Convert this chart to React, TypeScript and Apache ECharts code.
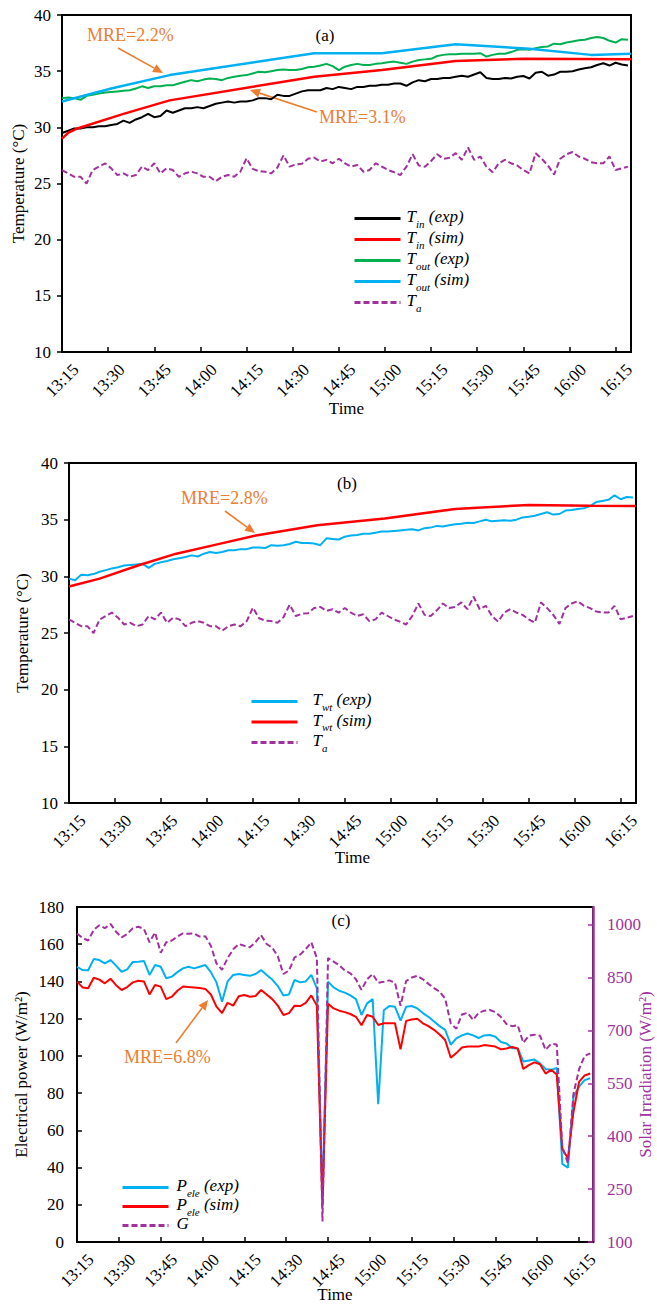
import { useEffect, useRef } from 'react';
import * as echarts from 'echarts';

const SERIF = '"Liberation Serif", "Times New Roman", serif';
const ORANGE = '#ED7D31';
const PURPLE = '#A0319F';
const BLUE = '#00B0F0';
const RED = '#FF0000';
const GREEN = '#00B050';
const BLACK = '#000000';

// Logged samples: minutes after 13:15, one every 2 minutes
const expMinutes = Array.from({ length: 93 }, (_, i) => i * 2);

// x-axis tick labels, every 15 minutes from 13:15
const tickLabels = ['13:15', '13:30', '13:45', '14:00', '14:15', '14:30', '14:45', '15:00', '15:15', '15:30', '15:45', '16:00', '16:15'];

// (a) inlet / outlet temperatures (°C)
const tinExp = [
  29.5, 29.7, 29.9, 29.9, 30.0, 30.0, 30.1, 30.1, 30.2, 30.3,
  30.6, 30.4, 30.7, 30.9, 31.2, 30.9, 31.0, 31.5, 31.3, 31.5,
  31.7, 31.7, 31.8, 31.7, 31.9, 32.1, 32.2, 32.3, 32.2, 32.3,
  32.3, 32.4, 32.6, 32.6, 32.5, 32.9, 32.8, 32.8, 33.0, 33.2,
  33.3, 33.3, 33.3, 33.5, 33.4, 33.6, 33.5, 33.4, 33.6, 33.6,
  33.7, 33.7, 33.8, 33.8, 33.9, 33.9, 33.7, 34.0, 34.2, 34.1,
  34.3, 34.3, 34.4, 34.4, 34.5, 34.6, 34.5, 34.7, 34.9, 34.4,
  34.3, 34.3, 34.4, 34.35, 34.5, 34.57, 34.35, 34.85, 34.95, 34.6,
  34.7, 34.95, 34.95, 35.0, 35.15, 35.25, 35.35, 35.55, 35.7, 35.5,
  35.75, 35.6, 35.5,
];
const toutExp = [
  32.6, 32.65, 32.6, 32.45, 32.8, 32.9, 33.0, 33.1, 33.15, 33.2,
  33.25, 33.3, 33.45, 33.65, 33.5, 33.65, 33.65, 33.75, 33.75, 33.9,
  34.05, 34.2, 34.1, 34.25, 34.35, 34.3, 34.2, 34.4, 34.5, 34.6,
  34.65, 34.8, 34.95, 34.9, 35.0, 35.1, 35.15, 35.1, 35.1, 35.2,
  35.35, 35.4, 35.5, 35.65, 35.45, 35.1, 35.4, 35.55, 35.65, 35.55,
  35.55, 35.65, 35.7, 35.8, 35.85, 35.75, 35.65, 35.85, 36.0, 36.05,
  36.1, 36.35, 36.45, 36.5, 36.5, 36.55, 36.55, 36.55, 36.6, 36.3,
  36.45, 36.55, 36.55, 36.7, 36.9, 36.95, 36.9, 37.05, 37.15, 37.2,
  37.45, 37.4, 37.55, 37.65, 37.75, 37.8, 37.95, 38.05, 37.95, 37.7,
  37.55, 37.85, 37.8,
];
// ambient temperature (°C), shared by (a) and (b)
const ambient = [
  26.2, 25.9, 25.6, 25.6, 25.0, 26.2, 26.5, 26.8, 26.35, 25.75,
  25.9, 25.6, 25.75, 26.5, 26.2, 26.8, 25.9, 26.35, 26.2, 25.6,
  25.9, 26.05, 25.9, 25.6, 25.6, 25.2, 25.6, 25.75, 25.6, 26.05,
  27.24, 26.3, 26.1, 26.05, 25.9, 26.4, 27.5, 26.5, 26.7, 26.75,
  27.2, 27.3, 26.95, 27.1, 26.8, 27.2, 26.8, 26.5, 26.65, 26.05,
  26.2, 26.8, 26.5, 26.2, 26.0, 25.75, 26.5, 27.6, 26.6, 26.5,
  27.0, 27.6, 27.2, 27.3, 27.7, 27.1, 28.2, 27.1, 27.4, 26.5,
  26.0, 26.8, 27.1, 26.8, 26.6, 26.2, 25.9, 27.7, 27.2, 26.6,
  25.8, 27.2, 27.6, 27.8, 27.4, 27.2, 26.9, 26.8, 26.8, 27.4,
  26.2, 26.35, 26.5,
];
// model output, given at its own time steps
const tinSimT = [0, 2, 5, 20, 35, 82, 104, 128, 150, 185];
const tinSimV = [29.0, 29.5, 29.9, 31.2, 32.4, 34.5, 35.1, 35.9, 36.1, 36.05];
const toutSimT = [0, 16, 35, 82, 104, 128, 152, 172, 185];
const toutSimV = [32.3, 33.45, 34.65, 36.6, 36.6, 37.4, 37.0, 36.45, 36.55];

// (b) water tank temperature (°C)
const twtExp = [
  29.8, 29.65, 30.15, 30.1, 30.2, 30.4, 30.55, 30.7, 30.8, 30.95,
  31.0, 31.05, 31.1, 30.75, 31.1, 31.25, 31.35, 31.5, 31.6, 31.7,
  31.85, 31.75, 32.0, 32.15, 32.05, 32.15, 32.3, 32.3, 32.4, 32.4,
  32.55, 32.55, 32.5, 32.75, 32.7, 32.75, 32.85, 33.05, 32.95, 32.95,
  32.9, 32.75, 33.35, 33.3, 33.25, 33.5, 33.6, 33.65, 33.75, 33.75,
  33.85, 33.95, 33.95, 34.0, 34.05, 34.1, 34.15, 34.05, 34.25, 34.3,
  34.45, 34.4, 34.5, 34.6, 34.65, 34.72, 34.7, 34.85, 35.0, 34.85,
  34.9, 34.95, 34.9, 35.0, 35.2, 35.25, 35.35, 35.5, 35.65, 35.45,
  35.5, 35.8, 35.85, 35.95, 36.0, 36.2, 36.55, 36.65, 36.75, 37.15,
  36.8, 37.0, 36.95,
];
const twtSimT = [0, 10, 23, 35, 48, 61, 81, 103, 126, 150, 170, 185];
const twtSimV = [29.1, 29.8, 31.0, 32.0, 32.8, 33.6, 34.5, 35.1, 35.95, 36.3, 36.22, 36.2];

// (c) electrical power (W/m²) and solar irradiation (W/m²)
const pExp = [
  147.9, 146.1, 146.0, 152, 151.5, 149.7, 151.5, 148.5, 145.2, 146.5,
  150.5, 150.6, 151, 143.5, 148.8, 147.9, 141.7, 142.6, 145, 147,
  147.9, 147, 147.9, 148.8, 145, 139.5, 129.1, 140, 143.5, 144,
  143.5, 143, 144, 146.1, 143.5, 141, 137.5, 132.5, 133, 140.8,
  139.5, 140, 143.5, 136.3, 24, 139.9, 136.8, 135, 134, 132.5,
  130.5, 122, 128.2, 130.5, 74, 124.5, 126.8, 126.4, 119, 126.4,
  126.8, 125.5, 123, 121, 118.5, 116, 114, 106, 109.4, 111,
  112, 111, 109.6, 111, 111.2, 110.3, 107.5, 106.7, 104.1, 104,
  97, 97.5, 98, 96, 93, 92.5, 93.5, 42, 40, 78,
  83.5, 87, 88,
];
const pSim = [
  139.9, 136.8, 136.3, 142, 141, 139, 141.5, 138, 135.4, 137,
  139.5, 140.4, 140, 133, 138.1, 137.2, 130.5, 131.8, 135, 137.3,
  137, 136.8, 136.5, 136, 133, 126.5, 123, 128.5, 127, 132,
  132.7, 131.8, 132.2, 135.4, 133, 130.5, 127, 122, 123, 127,
  126.8, 128.5, 132.5, 127, 19, 128, 125.5, 124.3, 123.5, 122.5,
  121, 116.5, 122, 121, 116.6, 117.5, 117.5, 117.5, 103.5, 118.8,
  119.5, 120, 117.5, 116, 114, 111.5, 108.5, 99, 101.5, 104.5,
  105, 105, 105, 105.8, 105.5, 105, 103.5, 104, 104.8, 104,
  93, 95, 96.5, 95.5, 90.5, 92.5, 90, 50, 45, 70,
  86, 89.5, 90.5,
];
const irradiation = [
  975, 962, 955, 985, 998, 990, 1002, 980, 964, 973,
  990, 994, 988, 950, 978, 920, 950, 955, 966, 975,
  974, 975, 966, 967, 940, 890, 872, 905, 930, 945,
  940, 936, 950, 970, 945, 935, 910, 860, 870, 907,
  915, 930, 950, 905, 158, 905, 895, 885, 870, 862,
  845, 815, 845, 860, 835, 838, 842, 835, 770, 840,
  850, 855, 845, 832, 820, 810, 790, 720, 705, 745,
  750, 730, 750, 756, 758, 752, 738, 718, 712, 715,
  665, 685, 688, 685, 645, 662, 660, 370, 323, 520,
  590, 628, 635,
];

// Legend labels: [symbol, subscript, suffix]
const legendParts: Record<string, [string, string, string]> = {
  'Tin (exp)': ['T', 'in', ' (exp)'],
  'Tin (sim)': ['T', 'in', ' (sim)'],
  'Tout (exp)': ['T', 'out', ' (exp)'],
  'Tout (sim)': ['T', 'out', ' (sim)'],
  'Ta': ['T', 'a', ''],
  'Twt (exp)': ['T', 'wt', ' (exp)'],
  'Twt (sim)': ['T', 'wt', ' (sim)'],
  'Pele (exp)': ['P', 'ele', ' (exp)'],
  'Pele (sim)': ['P', 'ele', ' (sim)'],
  'G': ['G', '', ''],
};

const pairs = (ts: number[], vs: number[]) => ts.map((t, i) => [t, vs[i]]);

const timeLabel = (m: number) => (m % 15 === 0 && m / 15 < tickLabels.length ? tickLabels[m / 15] : '');

const legendFormatter = (name: string) => {
  const [m, s, suf] = legendParts[name];
  return `{t|${m}}` + (s ? `{s|${s}}` : '') + (suf ? `{t|${suf}}` : '');
};

const legendRich = {
  t: { fontFamily: SERIF, fontStyle: 'italic', fontSize: 17, lineHeight: 21, verticalAlign: 'top', color: BLACK },
  s: { fontFamily: SERIF, fontStyle: 'italic', fontSize: 11, lineHeight: 10, verticalAlign: 'bottom', color: BLACK },
};

const makeLegend = (data: string[], left: number, top: number, gap: number, textPad: number) => ({
  data,
  left,
  top,
  orient: 'vertical',
  itemWidth: 46,
  itemHeight: 14,
  itemGap: gap,
  selectedMode: false,
  itemStyle: { opacity: 0 },
  lineStyle: { width: 3 },
  formatter: legendFormatter,
  textStyle: { rich: legendRich, padding: [0, 0, 0, textPad] },
});

const grids = [
  { left: 62, top: 15, width: 569, height: 337 },
  { left: 69, top: 463, width: 567, height: 340 },
  { left: 77, top: 907, width: 516, height: 335 },
];

const makeXAxis = (gridIndex: number, nameGap: number) => ({
  type: 'value',
  gridIndex,
  min: 0,
  max: 185,
  interval: 15,
  name: 'Time',
  nameLocation: 'middle',
  nameGap,
  nameMoveOverlap: false,
  nameTextStyle: { fontFamily: SERIF, fontSize: 17, color: BLACK },
  axisLine: { show: true, lineStyle: { color: BLACK, width: 2 } },
  axisTick: { show: true, inside: true, length: 5, lineStyle: { color: BLACK, width: 1.5 } },
  axisLabel: {
    rotate: 45,
    margin: 1,
    verticalAlign: 'top',
    padding: [11, 0, 0, 0],
    fontFamily: SERIF,
    fontSize: 17,
    color: BLACK,
    showMaxLabel: false,
    formatter: (v: number) => timeLabel(v),
  },
  splitLine: { show: false },
});

const makeTempAxis = (gridIndex: number, nameGap: number) => ({
  type: 'value',
  gridIndex,
  min: 10,
  max: 40,
  interval: 5,
  name: 'Temperature (°C)',
  nameLocation: 'middle',
  nameGap,
  nameMoveOverlap: false,
  nameTextStyle: { fontFamily: SERIF, fontSize: 17, color: BLACK },
  axisLine: { show: true, lineStyle: { color: BLACK, width: 2 } },
  axisTick: { show: true, inside: false, length: 5, lineStyle: { color: BLACK, width: 1.5 } },
  axisLabel: { margin: 11, fontFamily: SERIF, fontSize: 17, color: BLACK },
  splitLine: { show: false },
});

const arrow = (x1: number, y1: number, x2: number, y2: number) => {
  const dx = x2 - x1;
  const dy = y2 - y1;
  const len = Math.hypot(dx, dy);
  const ux = dx / len;
  const uy = dy / len;
  const head = 10;
  const half = 4.5;
  const bx = x2 - ux * head;
  const by = y2 - uy * head;
  return [
    {
      type: 'line',
      shape: { x1, y1, x2: bx, y2: by },
      style: { stroke: ORANGE, lineWidth: 1.6 },
      silent: true,
    },
    {
      type: 'polygon',
      shape: { points: [[x2, y2], [bx - uy * half, by + ux * half], [bx + uy * half, by - ux * half]] },
      style: { fill: ORANGE },
      silent: true,
    },
  ];
};

const label = (text: string, x: number, y: number, color: string, size: number, align = 'left') => ({
  type: 'text',
  x,
  y,
  silent: true,
  style: { text, fill: color, fontFamily: SERIF, fontSize: size, align, verticalAlign: 'middle' },
});

const lineSeries = (name: string, x: number, y: number, data: number[][], color: string, width: number, dashed = false) => ({
  name,
  type: 'line',
  xAxisIndex: x,
  yAxisIndex: y,
  data,
  symbol: 'none',
  showSymbol: false,
  color,
  itemStyle: { color },
  lineStyle: { color, width, type: dashed ? [6, 3] : 'solid' },
  z: 3,
});

export default function App() {
  const ref = useRef<HTMLDivElement>(null);

  useEffect(() => {
    if (!ref.current) return;
    const chart = echarts.init(ref.current, undefined, { renderer: 'svg' });

    const option = {
      animation: false,
      textStyle: { fontFamily: SERIF },
      grid: grids.map((g) => ({
        ...g,
        show: true,
        borderColor: BLACK,
        borderWidth: 2,
        backgroundColor: 'transparent',
        containLabel: false,
        outerBoundsMode: 'none',
      })),
      xAxis: [makeXAxis(0, 48), makeXAxis(1, 46), makeXAxis(2, 44)],
      yAxis: [
        makeTempAxis(0, 35),
        makeTempAxis(1, 38),
        {
          type: 'value',
          gridIndex: 2,
          min: 0,
          max: 180,
          interval: 20,
          name: 'Electrical power (W/m²)',
          nameLocation: 'middle',
          nameGap: 47,
          nameMoveOverlap: false,
          nameTextStyle: { fontFamily: SERIF, fontSize: 17, color: BLACK },
          axisLine: { show: true, lineStyle: { color: BLACK, width: 2 } },
          axisTick: { show: true, inside: true, length: 5, lineStyle: { color: BLACK, width: 1.5 } },
          axisLabel: { margin: 13, fontFamily: SERIF, fontSize: 17, color: BLACK },
          splitLine: { show: false },
        },
        {
          type: 'value',
          gridIndex: 2,
          position: 'right',
          min: 100,
          max: 1050,
          interval: 150,
          name: 'Solar Irradiation (W/m²)',
          nameLocation: 'middle',
          nameGap: 44,
          nameMoveOverlap: false,
          nameTextStyle: { fontFamily: SERIF, fontSize: 17, color: PURPLE },
          axisLine: { show: true, lineStyle: { color: PURPLE, width: 2.5 } },
          axisTick: { show: true, inside: true, length: 5, lineStyle: { color: PURPLE, width: 1.5 } },
          axisLabel: {
            margin: 14,
            fontFamily: SERIF,
            fontSize: 17,
            color: PURPLE,
            showMaxLabel: false,
            formatter: (v: number) => (v > 1000 ? '' : String(v)),
          },
          splitLine: { show: false },
        },
      ],
      legend: [
        makeLegend(['Tin (exp)', 'Tin (sim)', 'Tout (exp)', 'Tout (sim)', 'Ta'], 348, 203, 0, 1),
        makeLegend(['Twt (exp)', 'Twt (sim)', 'Ta'], 245, 686, -0.5, 10),
        makeLegend(['Pele (exp)', 'Pele (sim)', 'G'], 116, 1172, -2, 3),
      ],
      series: [
        lineSeries('Tin (exp)', 0, 0, pairs(expMinutes, tinExp), BLACK, 2),
        lineSeries('Tin (sim)', 0, 0, pairs(tinSimT, tinSimV), RED, 2.5),
        lineSeries('Tout (exp)', 0, 0, pairs(expMinutes, toutExp), GREEN, 2),
        lineSeries('Tout (sim)', 0, 0, pairs(toutSimT, toutSimV), BLUE, 2.5),
        lineSeries('Ta', 0, 0, pairs(expMinutes, ambient), PURPLE, 2, true),

        lineSeries('Twt (exp)', 1, 1, pairs(expMinutes, twtExp), BLUE, 2),
        lineSeries('Twt (sim)', 1, 1, pairs(twtSimT, twtSimV), RED, 2.5),
        lineSeries('Ta', 1, 1, pairs(expMinutes, ambient), PURPLE, 2, true),

        lineSeries('Pele (exp)', 2, 2, pairs(expMinutes, pExp), BLUE, 2),
        lineSeries('Pele (sim)', 2, 2, pairs(expMinutes, pSim), RED, 2),
        lineSeries('G', 2, 3, pairs(expMinutes, irradiation), PURPLE, 2, true),
      ],
      graphic: [
        label('(a)', 325, 35, BLACK, 17, 'center'),
        label('(b)', 347, 483, BLACK, 17, 'center'),
        label('(c)', 341, 920, BLACK, 17, 'center'),
        label('MRE=2.2%', 87, 35, ORANGE, 18),
        ...arrow(118, 48, 163, 73),
        label('MRE=3.1%', 319, 117, ORANGE, 18),
        ...arrow(317, 112, 250, 90),
        label('MRE=2.8%', 181, 498, ORANGE, 18),
        ...arrow(225, 511, 255, 533),
        label('MRE=6.8%', 124, 1057, ORANGE, 18),
        ...arrow(176, 1043, 208, 1000),
      ],
    };

    chart.setOption(option as any);
    return () => chart.dispose();
  }, []);

  return <div ref={ref} style={{ position: 'absolute', left: 0, top: 0, width: 657, height: 1309 }} />;
}
